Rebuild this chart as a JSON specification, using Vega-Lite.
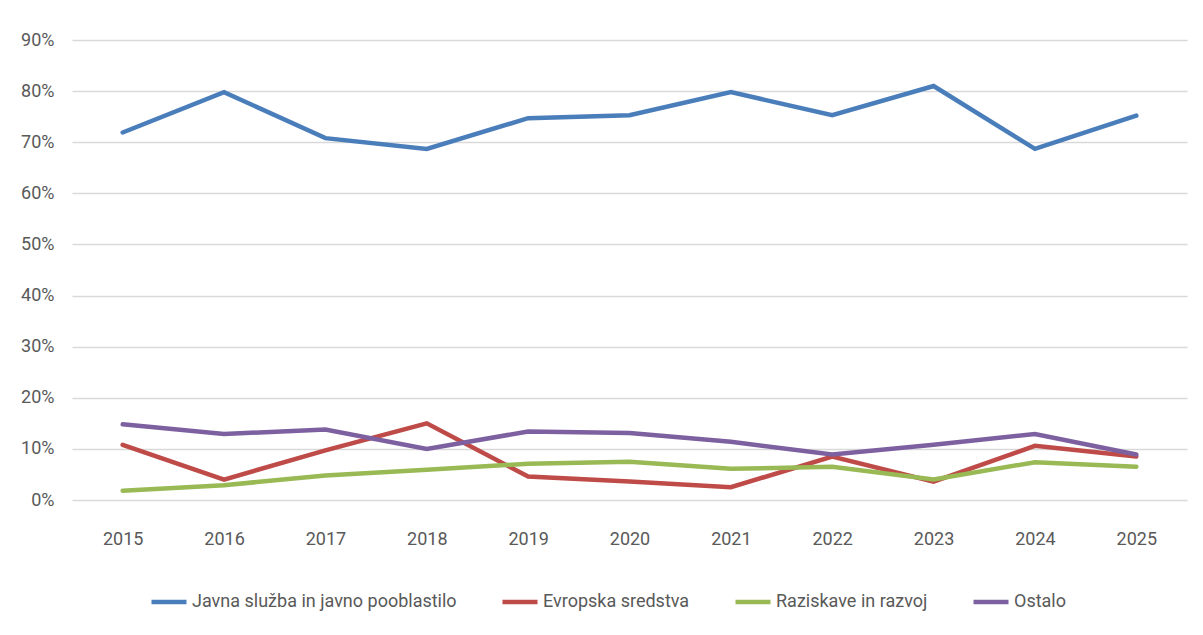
{
  "$schema": "https://vega.github.io/schema/vega-lite/v6.json",
  "autosize": "none",
  "width": 1115,
  "height": 460,
  "padding": {"left": 72, "top": 40, "right": 16, "bottom": 135},
  "background": "white",
  "data": {
    "values": [
      {"leto": "2015", "serija": "Javna služba in javno pooblastilo", "delez": 0.719},
      {"leto": "2016", "serija": "Javna služba in javno pooblastilo", "delez": 0.798},
      {"leto": "2017", "serija": "Javna služba in javno pooblastilo", "delez": 0.708},
      {"leto": "2018", "serija": "Javna služba in javno pooblastilo", "delez": 0.687},
      {"leto": "2019", "serija": "Javna služba in javno pooblastilo", "delez": 0.747},
      {"leto": "2020", "serija": "Javna služba in javno pooblastilo", "delez": 0.753},
      {"leto": "2021", "serija": "Javna služba in javno pooblastilo", "delez": 0.798},
      {"leto": "2022", "serija": "Javna služba in javno pooblastilo", "delez": 0.753},
      {"leto": "2023", "serija": "Javna služba in javno pooblastilo", "delez": 0.810},
      {"leto": "2024", "serija": "Javna služba in javno pooblastilo", "delez": 0.687},
      {"leto": "2025", "serija": "Javna služba in javno pooblastilo", "delez": 0.752},
      {"leto": "2015", "serija": "Evropska sredstva", "delez": 0.108},
      {"leto": "2016", "serija": "Evropska sredstva", "delez": 0.040},
      {"leto": "2017", "serija": "Evropska sredstva", "delez": 0.097},
      {"leto": "2018", "serija": "Evropska sredstva", "delez": 0.150},
      {"leto": "2019", "serija": "Evropska sredstva", "delez": 0.046},
      {"leto": "2020", "serija": "Evropska sredstva", "delez": 0.036},
      {"leto": "2021", "serija": "Evropska sredstva", "delez": 0.025},
      {"leto": "2022", "serija": "Evropska sredstva", "delez": 0.085},
      {"leto": "2023", "serija": "Evropska sredstva", "delez": 0.036},
      {"leto": "2024", "serija": "Evropska sredstva", "delez": 0.106},
      {"leto": "2025", "serija": "Evropska sredstva", "delez": 0.085},
      {"leto": "2015", "serija": "Raziskave in razvoj", "delez": 0.018},
      {"leto": "2016", "serija": "Raziskave in razvoj", "delez": 0.029},
      {"leto": "2017", "serija": "Raziskave in razvoj", "delez": 0.048},
      {"leto": "2018", "serija": "Raziskave in razvoj", "delez": 0.059},
      {"leto": "2019", "serija": "Raziskave in razvoj", "delez": 0.071},
      {"leto": "2020", "serija": "Raziskave in razvoj", "delez": 0.075},
      {"leto": "2021", "serija": "Raziskave in razvoj", "delez": 0.061},
      {"leto": "2022", "serija": "Raziskave in razvoj", "delez": 0.065},
      {"leto": "2023", "serija": "Raziskave in razvoj", "delez": 0.040},
      {"leto": "2024", "serija": "Raziskave in razvoj", "delez": 0.074},
      {"leto": "2025", "serija": "Raziskave in razvoj", "delez": 0.065},
      {"leto": "2015", "serija": "Ostalo", "delez": 0.148},
      {"leto": "2016", "serija": "Ostalo", "delez": 0.129},
      {"leto": "2017", "serija": "Ostalo", "delez": 0.138},
      {"leto": "2018", "serija": "Ostalo", "delez": 0.100},
      {"leto": "2019", "serija": "Ostalo", "delez": 0.134},
      {"leto": "2020", "serija": "Ostalo", "delez": 0.131},
      {"leto": "2021", "serija": "Ostalo", "delez": 0.114},
      {"leto": "2022", "serija": "Ostalo", "delez": 0.089},
      {"leto": "2023", "serija": "Ostalo", "delez": 0.108},
      {"leto": "2024", "serija": "Ostalo", "delez": 0.129},
      {"leto": "2025", "serija": "Ostalo", "delez": 0.089}
    ]
  },
  "mark": {"type": "line", "strokeWidth": 4.5, "strokeCap": "round", "strokeJoin": "miter"},
  "encoding": {
    "x": {
      "field": "leto",
      "type": "ordinal",
      "scale": {"type": "point", "padding": 0.5},
      "axis": {
        "title": null,
        "labelAngle": 0,
        "domain": false,
        "ticks": false,
        "grid": false,
        "labelPadding": 30,
        "labelFontSize": 18,
        "labelColor": "#595959",
        "labelFont": "Roboto"
      }
    },
    "y": {
      "field": "delez",
      "type": "quantitative",
      "scale": {"domain": [0, 0.9], "nice": false},
      "axis": {
        "title": null,
        "format": ".0%",
        "values": [0, 0.1, 0.2, 0.3, 0.4, 0.5, 0.6, 0.7, 0.8, 0.9],
        "domain": false,
        "ticks": false,
        "grid": true,
        "gridColor": "#D9D9D9",
        "gridWidth": 1.5,
        "labelPadding": 18,
        "labelFontSize": 18,
        "labelColor": "#595959",
        "labelFont": "Roboto"
      }
    },
    "color": {
      "field": "serija",
      "type": "nominal",
      "sort": ["Javna služba in javno pooblastilo", "Evropska sredstva", "Raziskave in razvoj", "Ostalo"],
      "scale": {
        "domain": ["Javna služba in javno pooblastilo", "Evropska sredstva", "Raziskave in razvoj", "Ostalo"],
        "range": ["#4A7EBB", "#BE4B48", "#98B954", "#7D60A0"]
      },
      "legend": {
        "title": null,
        "orient": "none",
        "legendX": 77,
        "legendY": 542,
        "direction": "horizontal",
        "symbolType": "stroke",
        "symbolSize": 1225,
        "symbolStrokeWidth": 4.5,
        "labelFontSize": 18,
        "labelColor": "#595959",
        "labelFont": "Roboto",
        "labelOffset": 3,
        "columnPadding": 36,
        "labelLimit": 400
      }
    }
  },
  "config": {
    "view": {"stroke": null},
    "font": "Roboto"
  }
}
